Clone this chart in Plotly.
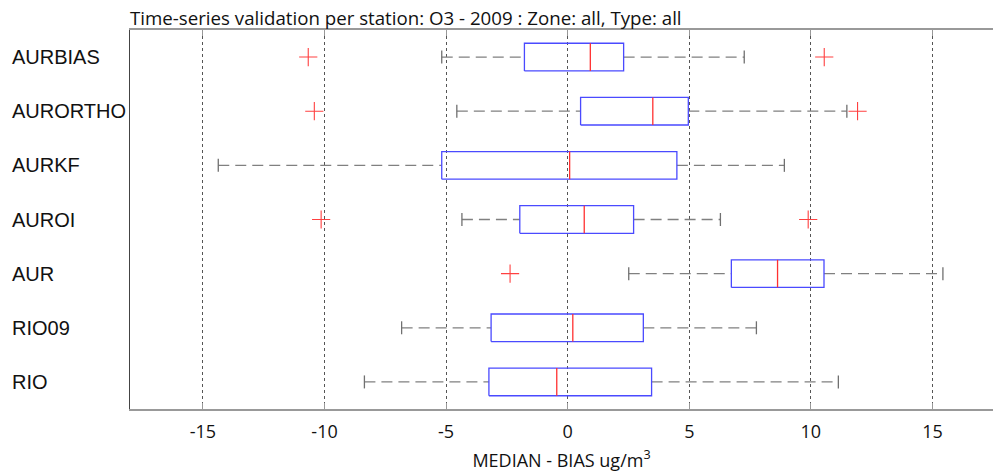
import plotly.graph_objects as go

stations = ["AURBIAS", "AURORTHO", "AURKF", "AUROI", "AUR", "RIO09", "RIO"]
lower_whisker = [-5.18, -4.56, -14.37, -4.35, 2.51, -6.83, -8.36]
q1 = [-1.78, 0.53, -5.18, -1.97, 6.73, -3.15, -3.24]
median = [0.93, 3.50, 0.08, 0.68, 8.63, 0.21, -0.45]
q3 = [2.30, 4.96, 4.49, 2.71, 10.54, 3.11, 3.45]
upper_whisker = [7.26, 11.48, 8.91, 6.28, 15.43, 7.76, 11.13]
outliers = [[-10.67, 10.55], [-10.42, 11.92], [], [-10.14, 9.89], [-2.37], [], []]
xticks = [-15, -10, -5, 0, 5, 10, 15]

n = len(stations)
ypos = [n - 1 - i for i in range(n)]  # top to bottom
HALF_BOX = 0.255
HALF_CAP = 0.12

fig = go.Figure()

# whiskers (dashed)
wx, wy = [], []
for i in range(n):
    y = ypos[i]
    wx += [lower_whisker[i], q1[i], None, q3[i], upper_whisker[i], None]
    wy += [y, y, None, y, y, None]
fig.add_trace(go.Scatter(x=wx, y=wy, mode="lines",
                         line=dict(color="#808080", width=1.3, dash="11px,6px"),
                         hoverinfo="skip", showlegend=False))
# caps
cx, cy = [], []
for i in range(n):
    y = ypos[i]
    for v in (lower_whisker[i], upper_whisker[i]):
        cx += [v, v, None]
        cy += [y - HALF_CAP, y + HALF_CAP, None]
fig.add_trace(go.Scatter(x=cx, y=cy, mode="lines",
                         line=dict(color="#707070", width=1.3),
                         hoverinfo="skip", showlegend=False))
# boxes
bx, by = [], []
for i in range(n):
    y = ypos[i]
    bx += [q1[i], q3[i], q3[i], q1[i], q1[i], None]
    by += [y - HALF_BOX, y - HALF_BOX, y + HALF_BOX, y + HALF_BOX, y - HALF_BOX, None]
fig.add_trace(go.Scatter(x=bx, y=by, mode="lines",
                         line=dict(color="#4a4aff", width=1.3),
                         hoverinfo="skip", showlegend=False))
# medians
mx, my = [], []
for i in range(n):
    y = ypos[i]
    mx += [median[i], median[i], None]
    my += [y - HALF_BOX, y + HALF_BOX, None]
fig.add_trace(go.Scatter(x=mx, y=my, mode="lines",
                         line=dict(color="#ff3030", width=1.3),
                         hoverinfo="skip", showlegend=False))
# outliers
ox, oy = [], []
for i in range(n):
    for v in outliers[i]:
        ox.append(v)
        oy.append(ypos[i])
fig.add_trace(go.Scatter(x=ox, y=oy, mode="markers",
                         marker=dict(symbol="cross-thin", size=13,
                                     line=dict(color="#ff4040", width=1.1)),
                         hoverinfo="skip", showlegend=False))

W, H = 993, 472
left, top, bottom = 130, 30, 63
plot_w = W - left
TXT = "Open Sans, Lato"

annotations = []
for i in range(n):
    annotations.append(dict(text=stations[i], x=(10 - left) / plot_w, xref="paper",
                            xanchor="left", y=ypos[i], yref="y", yanchor="middle",
                            showarrow=False,
                            font=dict(family="Liberation Sans, Arial", size=20, color="#111")))

fig.update_layout(
    width=W, height=H,
    margin=dict(l=left, r=0, t=top, b=bottom, pad=0),
    plot_bgcolor="white", paper_bgcolor="white",
    showlegend=False,
    title=dict(text="Time-series validation per station: O3 - 2009 : Zone: all, Type: all",
               x=left / W, xanchor="left", xref="container",
               y=1 - 18 / H, yanchor="middle", yref="container",
               font=dict(family=TXT, size=18.7, color="#111")),
    annotations=annotations,
    xaxis=dict(range=[-18.0, 17.49], tickvals=xticks, ticktext=[str(t) for t in xticks],
               showgrid=True, gridcolor="#555", griddash="dot", gridwidth=1,
               zeroline=False, showline=True, linecolor="#999", linewidth=1.5,
               mirror="ticks", ticks="inside", ticklen=6, tickcolor="#999",
               tickfont=dict(family=TXT, size=18, color="#111"),
               ticklabelstandoff=6,
               title=dict(text="MEDIAN - BIAS ug/m<sup>3</sup>", standoff=14,
                          font=dict(family=TXT, size=18, color="#111"))),
    yaxis=dict(range=[-0.5, n - 0.5], tickvals=ypos, showticklabels=False,
               showgrid=False, zeroline=False, showline=True, linecolor="#444",
               linewidth=1, ticks=""),
)

fig.write_html("out.html")
